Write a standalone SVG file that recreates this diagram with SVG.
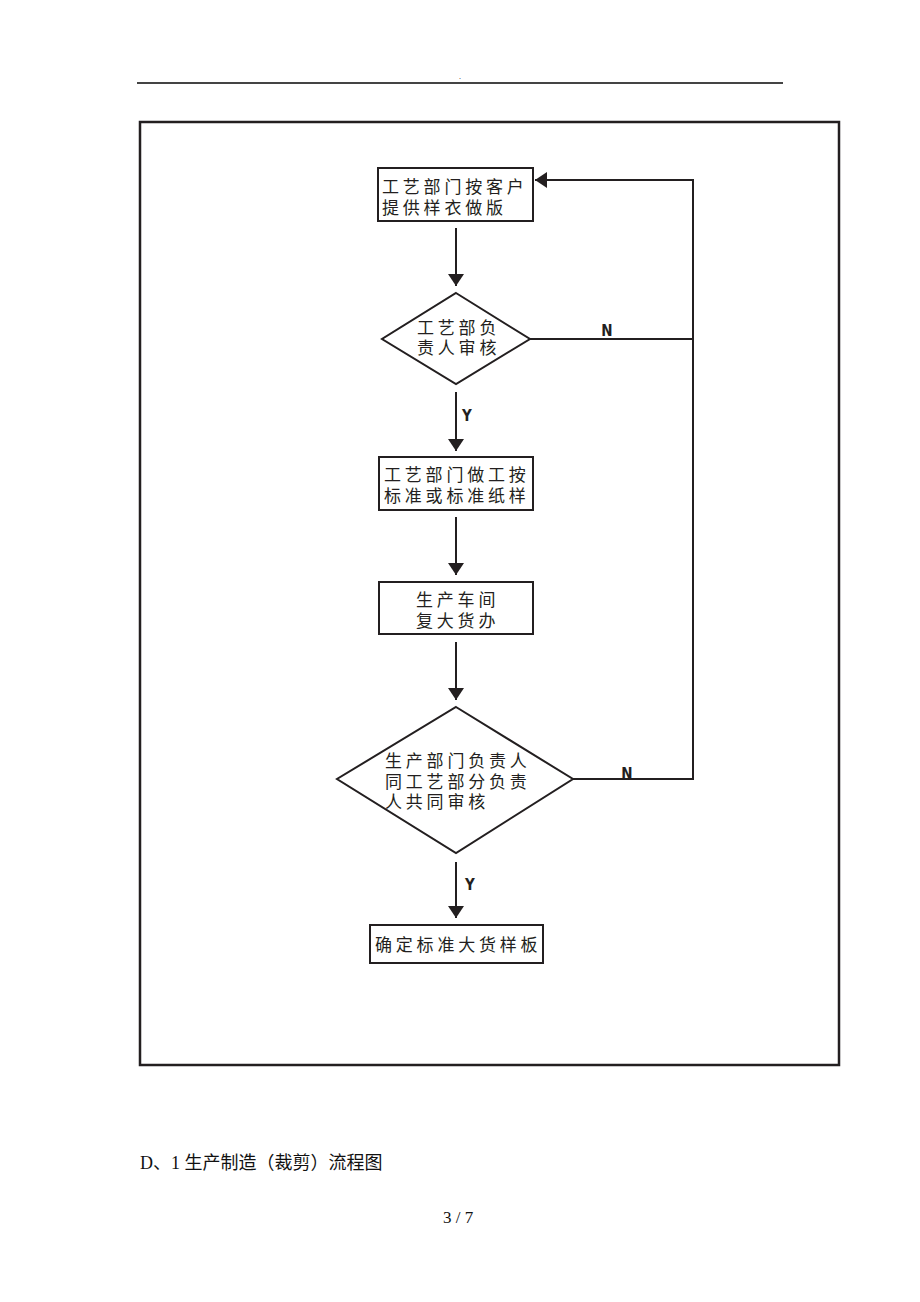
<svg xmlns="http://www.w3.org/2000/svg" width="920" height="1302" viewBox="0 0 920 1302">
<style>
.node{fill:#fff;stroke:#231f20;stroke-width:2}
.t{font-family:"Liberation Sans","Noto Sans CJK SC",sans-serif;font-size:17px;fill:#231f20;letter-spacing:3.8px}
.lbl{font-family:"Liberation Sans Narrow","DejaVu Sans Condensed",sans-serif;font-size:15px;font-weight:bold;fill:#231f20}
.c{fill:none;stroke:#231f20;stroke-width:2}
.doc{font-family:"Liberation Serif","Noto Sans CJK SC",serif;fill:#111}
</style>
<defs>
<marker id="ah" markerWidth="12" markerHeight="16" refX="12" refY="8" orient="auto" markerUnits="userSpaceOnUse" viewBox="0 0 12 16">
<path d="M0,0 L12,8 L0,16 z" fill="#231f20"/>
</marker>
</defs>
<rect width="920" height="1302" fill="#fff"/>
<line x1="137" y1="83" x2="783" y2="83" stroke="#444" stroke-width="2"/>
<text x="460" y="79" class="doc" font-size="8" text-anchor="middle">.</text>
<rect x="140" y="122" width="699" height="943" fill="none" stroke="#231f20" stroke-width="2.5"/>

<g id="connectors">
<line class="c" x1="456" y1="228" x2="456" y2="286" marker-end="url(#ah)"/>
<line class="c" x1="456" y1="392" x2="456" y2="451" marker-end="url(#ah)"/>
<line class="c" x1="456" y1="517" x2="456" y2="575" marker-end="url(#ah)"/>
<line class="c" x1="456" y1="642" x2="456" y2="700" marker-end="url(#ah)"/>
<line class="c" x1="456" y1="862" x2="456" y2="918" marker-end="url(#ah)"/>
<polyline class="c" points="530,339 693,339"/>
<polyline class="c" points="573,779 693,779 693,180 535,180" marker-end="url(#ah)"/>
<text class="lbl" x="607" y="336" text-anchor="middle">N</text>
<text class="lbl" x="627" y="779" text-anchor="middle">N</text>
<text class="lbl" x="467" y="421" text-anchor="middle">Y</text>
<text class="lbl" x="470" y="890" text-anchor="middle">Y</text>
</g>

<g id="n1">
<rect class="node" x="378" y="168" width="155" height="53"/>
<text class="t"><tspan x="382" y="193">工艺部门按客户</tspan><tspan x="382" y="214">提供样衣做版</tspan></text>
</g>
<g id="n2">
<polygon class="node" points="456,293 530,339 456,384 382,339"/>
<text class="t"><tspan x="417" y="334">工艺部负</tspan><tspan x="417" y="354">责人审核</tspan></text>
</g>
<g id="n3">
<rect class="node" x="379" y="457" width="154" height="53"/>
<text class="t"><tspan x="384" y="481">工艺部门做工按</tspan><tspan x="384" y="502">标准或标准纸样</tspan></text>
</g>
<g id="n4">
<rect class="node" x="379" y="582" width="154" height="52"/>
<text class="t"><tspan x="416" y="606">生产车间</tspan><tspan x="416" y="627">复大货办</tspan></text>
</g>
<g id="n5">
<polygon class="node" points="456,707 573,779 456,853 337,779"/>
<text class="t"><tspan x="385" y="767">生产部门负责人</tspan><tspan x="385" y="788">同工艺部分负责</tspan><tspan x="385" y="808">人共同审核</tspan></text>
</g>
<g id="n6">
<rect class="node" x="370" y="925" width="173" height="38"/>
<text class="t" x="375" y="951">确定标准大货样板</text>
</g>

<text class="doc" x="140" y="1169" font-size="18">D、1 生产制造（裁剪）流程图</text>
<text class="doc" x="443" y="1223" font-size="17">3  / 7</text>
</svg>
